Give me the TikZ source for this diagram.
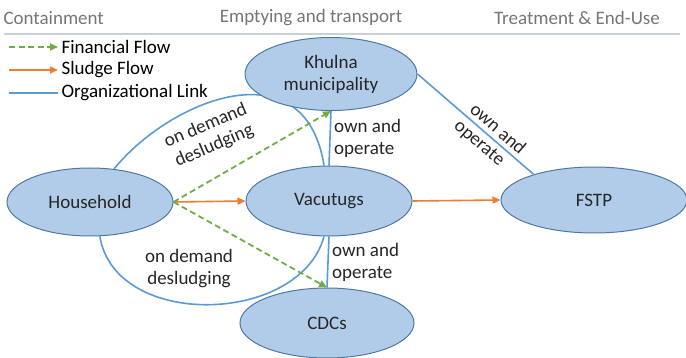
\documentclass[tikz,border=0pt]{standalone}
\usepackage{fontspec}
\setmainfont{Carlito}
\usetikzlibrary{shapes.geometric,arrows.meta,backgrounds}
\definecolor{ellfill}{RGB}{177,204,233}
\definecolor{elldraw}{RGB}{80,120,165}
\definecolor{orglink}{RGB}{91,155,213}
\definecolor{sludge}{RGB}{237,125,49}
\definecolor{money}{RGB}{112,173,71}
\definecolor{headgray}{RGB}{118,118,118}
\definecolor{headline}{RGB}{200,208,218}

\begin{document}
\begin{tikzpicture}[x=1pt,y=-1pt,
  font=\fontsize{19}{22}\selectfont,
  actor/.style={ellipse,draw=elldraw,fill=ellfill,line width=1pt,inner sep=0pt,align=center,text=black!85},
  org/.style={draw=orglink,line width=1.6pt},
  flow/.style={draw=sludge,line width=1.6pt,-{Triangle[length=8pt,width=7pt]}},
  fin/.style={draw=money,dash pattern=on 6pt off 3.5pt,line width=1.8pt,-{Triangle[length=8pt,width=7pt]}}]
\useasboundingbox (0,0) rectangle (686,358);

% stages
\node[anchor=west,text=headgray] (hcont) at (0,18) {Containment};
\node[text=headgray] (hempt) at (311,18) {Emptying and transport};
\node[text=headgray] (htreat) at (577,18) {Treatment \& End-Use};
\draw[headline,line width=1.5pt] (4,34) -- (680,34);

% legend
\node[anchor=west] (lfin) at (58,47) {Financial Flow};
\node[anchor=west] (lslu) at (58,70) {Sludge Flow};
\node[anchor=west] (lorg) at (58,93) {Organizational Link};
\coordinate (cfin) at (9,47);
\coordinate (cslu) at (9,70);
\coordinate (corg) at (9,93);
\draw[fin] (cfin) -- (lfin.west);
\draw[flow] (cslu) -- (lslu.west);
\draw[org,line width=2.2pt] (corg) -- (lorg.west);

% actors
\node[actor,minimum width=172pt,minimum height=73pt] (khu) at (331,74) {Khulna\\municipality};
\node[actor,minimum width=166pt,minimum height=68pt] (hh) at (90,202) {Household};
\node[actor,minimum width=166pt,minimum height=70pt] (vac) at (329,201) {Vacutugs};
\node[actor,minimum width=186pt,minimum height=66pt] (fstp) at (594,200) {FSTP};
\node[actor,minimum width=174pt,minimum height=70pt] (cdc) at (327,323) {CDCs};

% links
\begin{scope}[on background layer]
\draw[org] (hh.54) .. controls (170,100) and (305,45) .. (vac.98);
\end{scope}
\node[rotate=23,align=center,text=black!85] (dem1) at (210,136) {on demand\\desludging};
\draw[org] (hh.-74) .. controls (115,330) and (300,325) .. (vac.-98);
\node[align=center,text=black!85] (dem2) at (189,269) {on demand\\desludging};
\draw[org] (vac.north) -- node[right,align=left,text=black!85] (own1) {own and\\operate} (khu.south);
\draw[org] (vac.south) -- node[right,align=left,text=black!85] (own2) {own and\\operate} (cdc.north);
\draw[org] (khu.east) -- node[sloped,above=1pt,pos=0.63,text=black!85] (own3) {own and}
  node[sloped,below=1pt,pos=0.6,text=black!85] (own4) {operate} (fstp.157);

% flows
\draw[flow] (hh.east) -- (vac.west);
\draw[flow] (vac.east) -- (fstp.west);
\draw[fin] (hh.east) -- (khu.south);
\draw[fin] (hh.east) -- (cdc.north);
\end{tikzpicture}
\end{document}
